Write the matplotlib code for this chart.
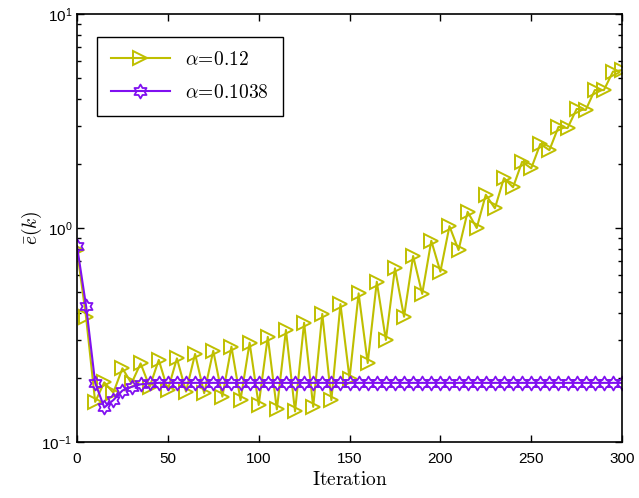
#%%
# Convergence of the averaged error for two step sizes (log scale)
import numpy as np
import matplotlib.pyplot as plt
from matplotlib.path import Path
from matplotlib.ticker import FixedLocator, FuncFormatter, LogLocator, NullFormatter

plt.rcParams['font.family'] = ['Liberation Sans', 'DejaVu Sans']

# Iterations where the curves are sampled
iterations = np.arange(0, 301, 5)

# alpha = 0.12 (diverging oscillation)
err_a012 = [0.79, 0.383, 0.154, 0.19, 0.17, 0.221, 0.188, 0.233, 0.181, 0.242,
            0.175, 0.246, 0.172, 0.258, 0.169, 0.267, 0.163, 0.279, 0.157, 0.291,
            0.149, 0.31, 0.142, 0.334, 0.139, 0.361, 0.146, 0.397, 0.157, 0.441,
            0.198, 0.495, 0.234, 0.561, 0.30, 0.648, 0.385, 0.74, 0.492, 0.872,
            0.625, 1.02, 0.789, 1.19, 1.0, 1.43, 1.236, 1.71, 1.55, 2.04,
            1.9, 2.47, 2.31, 2.97, 2.93, 3.6, 3.56, 4.41, 4.41, 5.38,
            5.47]

# alpha = 0.1038 (converges)
err_a1038 = [0.824, 0.432, 0.189, 0.145, 0.157, 0.174, 0.181, 0.186, 0.188] + [0.189] * 52

# Six-pointed star (hexagram) marker
ang = np.pi / 2 + np.arange(12) * np.pi / 6
rad = np.where(np.arange(12) % 2 == 0, 1.0, 1 / np.sqrt(3))
verts = np.column_stack([rad * np.cos(ang), rad * np.sin(ang)])
verts = np.vstack([verts, verts[:1]])
hexagram = Path(verts, [Path.MOVETO] + [Path.LINETO] * 11 + [Path.CLOSEPOLY])

fig = plt.figure(figsize=(6.39, 4.98), dpi=100)
ax = fig.add_axes([0.1205, 0.1124, 0.853, 0.8595])

ax.plot(iterations, err_a012, color='#BFBF00', linewidth=1.5, marker='>',
        markersize=9.5, fillstyle='none', markeredgewidth=1.4, label=r'$\alpha\!=\!0.12$')
ax.plot(iterations, err_a1038, color='#8010F0', linewidth=1.5, marker=hexagram,
        markersize=10, fillstyle='none', markeredgewidth=1.3, label=r'$\alpha\!=\!0.1038$')

ax.set_yscale('log')
ax.set_xlim(0, 300)
ax.set_ylim(0.1, 10)
ax.xaxis.set_major_locator(FixedLocator(np.arange(0, 301, 50)))
ax.yaxis.set_major_locator(FixedLocator([0.1, 1, 10]))
ax.yaxis.set_minor_locator(LogLocator(base=10, subs=np.arange(2, 10)))
ax.yaxis.set_minor_formatter(NullFormatter())
ax.yaxis.set_major_formatter(FuncFormatter(
    lambda v, p: r'$\mathregular{10^{%d}}$' % int(round(np.log10(v)))))

ax.tick_params(which='both', direction='in', top=True, right=True, labelsize=11,
               width=1.0, colors='black')
ax.tick_params(which='major', length=5)
ax.tick_params(which='minor', length=3)
ax.tick_params(axis='x', pad=7)
for sp in ax.spines.values():
    sp.set_linewidth(1.2)

ax.set_xlabel(r'$\mathrm{Iteration}$', fontsize=14, math_fontfamily='cm', labelpad=4)
ax.set_ylabel(r'$\bar{e}(k)$', fontsize=14, math_fontfamily='cm', labelpad=-2)

leg = ax.legend(loc='upper left', bbox_to_anchor=(0.037, 0.947), borderaxespad=0,
                fontsize=14, handlelength=3.0, fancybox=False, framealpha=1,
                edgecolor='black', borderpad=0.72, labelspacing=0.8)
leg.get_frame().set_linewidth(1.0)
for t in leg.get_texts():
    t.set_math_fontfamily('cm')

fig.savefig('out.png', dpi=100)
print("Chart saved to out.png")
